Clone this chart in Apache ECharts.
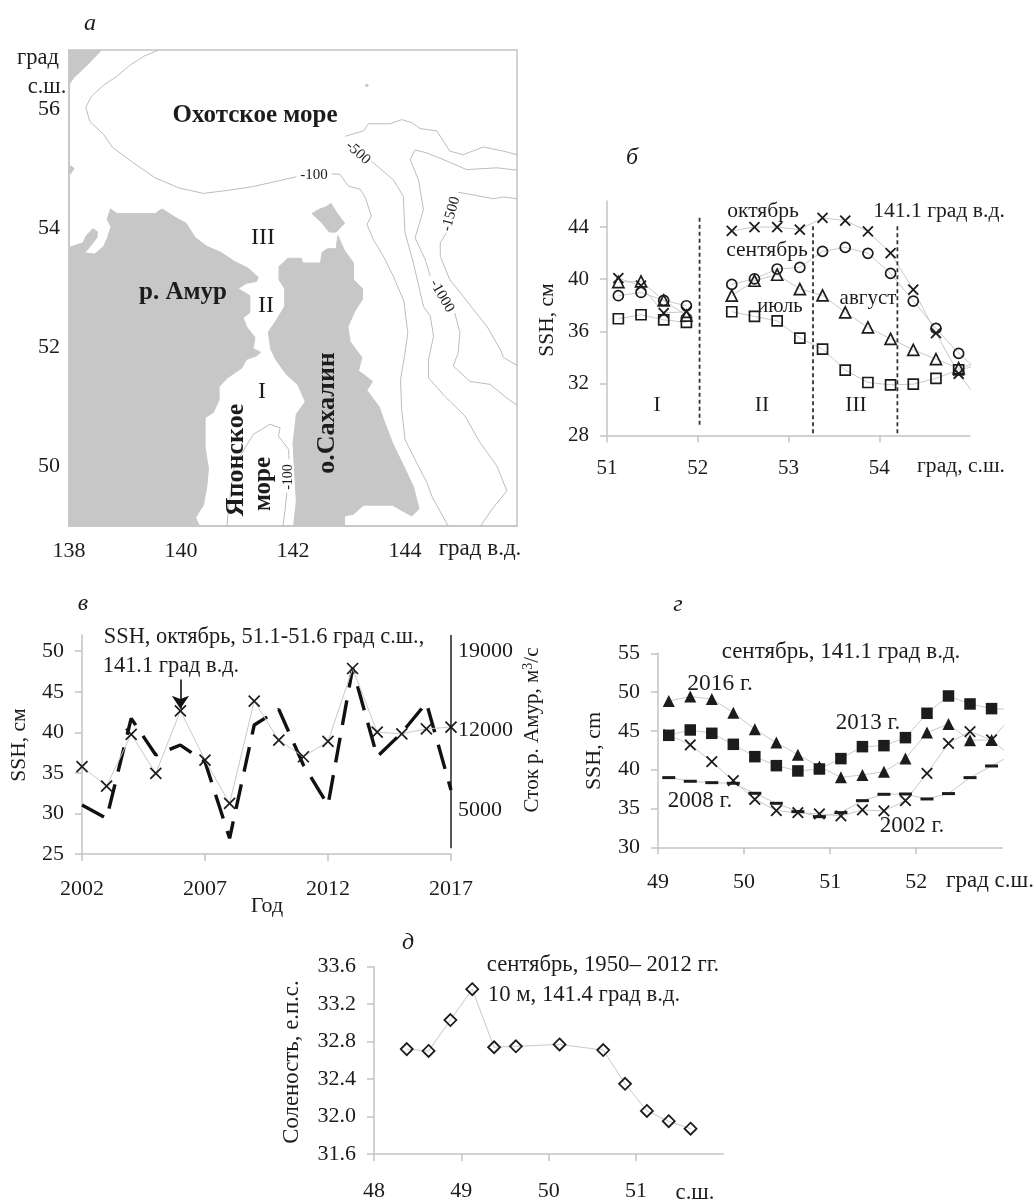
<!DOCTYPE html>
<html><head><meta charset="utf-8">
<style>html,body{margin:0;padding:0;background:#fff}#c{width:1036px;height:1202px}</style>
<script src="https://cdn.jsdelivr.net/npm/echarts@6/dist/echarts.min.js"></script>
</head><body><div id="c"></div>
<script>
// ---------- panel a (map) : lon/lat ----------
const mainland=[[138,53.68],[138.25,53.76],[138.31,53.88],[138.43,54.00],[138.51,53.94],[138.50,53.85],[138.38,53.70],[138.28,53.59],[138.46,53.57],[138.62,53.70],[138.69,53.85],[138.75,54.03],[138.68,54.15],[138.74,54.33],[138.86,54.25],[139.23,54.25],[139.54,54.25],[139.66,54.33],[139.91,54.18],[140.09,54.09],[140.25,53.85],[140.46,53.70],[140.71,53.60],[140.95,53.45],[141.20,53.33],[141.38,53.18],[141.35,53.11],[141.17,53.08],[141.02,52.99],[141.23,52.87],[141.23,52.59],[141.11,52.50],[141.17,52.35],[141.32,52.17],[141.29,51.98],[141.42,51.92],[141.35,51.86],[141.17,51.80],[141.08,51.65],[140.83,51.49],[140.68,51.34],[140.68,51.12],[140.58,50.91],[140.43,50.82],[140.43,50.33],[140.49,49.96],[140.46,49.66],[140.40,49.35],[140.26,49.14],[140.33,49],[138,49]];
const sakhalin=[[142.80,53.88],[142.92,53.63],[143.08,53.42],[143.08,53.14],[143.24,52.99],[143.24,52.81],[143.11,52.62],[142.98,52.35],[143.02,52.10],[143.23,51.83],[143.17,51.61],[143.42,51.43],[143.32,51.28],[143.54,51.00],[143.63,50.76],[143.78,50.39],[143.97,50.02],[144.15,49.66],[144.25,49.29],[144.12,49.17],[144.00,49.23],[143.78,49.35],[143.26,49.35],[143.08,49.20],[142.92,49.17],[142.92,49],[142.01,49],[142.06,49.41],[142.03,49.90],[142.00,50.39],[142.06,50.88],[142.22,51.09],[142.09,51.37],[141.88,51.55],[141.69,51.80],[141.60,51.98],[141.56,52.26],[141.69,52.44],[141.85,52.69],[141.85,52.99],[141.75,53.14],[141.75,53.36],[141.91,53.50],[142.15,53.50],[142.17,53.42],[142.49,53.42],[142.52,53.60],[142.62,53.66],[142.77,53.66]];
const sakhalinLobe=[[142.34,54.25],[142.46,54.32],[142.58,54.36],[142.68,54.42],[142.77,54.28],[142.92,54.09],[142.77,53.94],[142.65,53.94],[142.49,54.12]];
const cornerLand=[[138,57],[138.58,57],[138.34,56.76],[138.09,56.54],[138,56.42]];
const leftIslet=[[138,55.07],[138.09,55.01],[138.03,54.92],[138,54.92]];
const speck=[[143.30,56.42],[143.34,56.42],[143.34,56.39],[143.30,56.39]];
const land=[mainland,sakhalin,sakhalinLobe,cornerLand,leftIslet,speck];
const iso100north=[[139.60,57],[139.35,56.90],[139.08,56.74],[138.86,56.56],[138.62,56.41],[138.40,56.22],[138.30,56.04],[138.37,55.80],[138.62,55.58],[138.77,55.37],[139.11,55.13],[139.54,54.85],[139.97,54.68],[140.40,54.59],[140.83,54.64],[141.26,54.70],[141.69,54.79],[142.06,54.87]];
const iso100east=[[142.69,54.92],[142.84,54.91],[142.99,54.71],[143.20,54.66],[143.29,54.52],[143.40,54.21],[143.32,54.07],[143.43,53.82],[143.61,53.54],[143.79,53.20],[143.98,52.78],[144.02,52.47],[144.05,52.25],[144.00,51.91],[143.92,51.46],[143.94,50.96],[144.00,50.45],[144.21,50.06],[144.39,49.73],[144.48,49.5],[144.77,49]];
const iso500east=[[142.93,55.55],[143.26,55.64],[143.35,55.76],[143.73,55.76],[143.94,55.83],[144.12,55.78],[144.27,55.68],[144.57,55.64],[144.80,55.30],[145.04,55.24],[145.40,55.37],[145.76,55.30],[146,55.24]];
const iso500south=[[143.40,55.13],[143.79,54.82],[143.97,54.54],[144.00,53.93],[144.15,53.42],[144.33,52.69],[144.45,52.53],[144.51,52.19],[144.42,51.80],[144.42,51.49],[144.71,51.18],[145.07,50.85],[145.34,50.40],[145.64,50.01],[145.82,49.59],[145.56,49.29],[145.35,49]];
const iso1000north=[[146,54.98],[145.64,55.02],[145.10,54.99],[144.68,55.16],[144.39,55.27],[144.18,55.32],[144.09,55.16],[144.24,54.82],[144.33,54.32],[144.18,53.84],[144.36,53.48],[144.45,53.20]];
const iso1000south=[[144.89,52.58],[144.98,52.25],[144.95,51.91],[144.86,51.69],[145.16,51.43],[145.52,51.38],[145.82,51.15],[146,51.03]];
const iso1500north=[[146,54.50],[145.76,54.53],[145.58,54.50],[144.95,54.61]];
const iso1500south=[[144.74,53.93],[144.63,53.76],[144.63,53.53],[144.80,53.14],[145.04,52.86],[145.22,52.64],[145.46,52.36],[145.70,51.97],[145.76,51.83],[146,51.70]];
const isoJapanN=[[140.82,49],[140.85,49.3],[140.95,50.0],[141.14,50.31],[141.29,50.54],[141.59,50.71],[141.77,50.65],[141.74,50.51],[141.92,50.29],[141.93,50.12]];
const isoJapanS=[[141.89,49.56],[141.86,49.28],[141.82,49]];
const isolines=[iso100north,iso100east,iso500east,iso500south,iso1000north,iso1000south,iso1500north,iso1500south,isoJapanN,isoJapanS];

// ---------- panel b ----------
const latB=[51.125,51.375,51.625,51.875,52.125,52.375,52.625,52.875,53.125,53.375,53.625,53.875,54.125,54.375,54.625,54.875,55.04];
const octB=[40.08,39.5,37.4,37.5,null,43.7,44.0,44.0,43.8,44.7,44.5,43.67,42.0,39.2,35.86,32.74,31.25];
const sepB=[38.73,38.98,38.37,37.96,null,39.6,40.03,40.78,40.9,42.13,42.44,41.98,40.44,38.32,36.22,34.3,33.3];
const augB=[39.78,39.83,38.37,37.2,null,38.73,39.88,40.34,39.24,38.75,37.45,36.3,35.42,34.58,33.86,33.17,33.5];
const julB=[36.96,37.27,36.88,36.68,null,37.5,37.14,36.8,35.48,34.63,33.02,32.07,31.89,31.94,32.38,33.04,33.3];
const dividersB=[[52.02,28.82,44.8],[53.27,28.18,44.2],[54.2,28.18,44.2]];

// ---------- panel v ----------
const yearsV=[2002,2003,2004,2005,2006,2007,2008,2009,2010,2011,2012,2013,2014,2015,2016,2017];
const ssh=[35.76,33.37,39.74,34.93,42.65,36.58,31.24,43.84,39.04,36.99,38.88,47.87,40.02,39.82,40.43,40.64];
const runoff=[5440,4270,13070,9840,10720,9250,2510,12480,13860,8960,5440,17470,9690,11800,14440,6760];

// ---------- panel g ----------
const latG=[49.125,49.375,49.625,49.875,50.125,50.375,50.625,50.875,51.125,51.375,51.625,51.875,52.125,52.375,52.625,52.875,53.04];
const y2016=[48.86,49.42,49.11,47.35,45.2,43.49,41.94,40.4,39.02,39.32,39.75,41.43,44.78,45.89,43.79,43.83,46];
const y2013=[44.43,45.12,44.69,43.27,41.68,40.52,39.84,40.09,41.43,42.97,43.1,44.13,47.27,49.5,48.47,47.87,47.8];
const y2002=[44.5,43.19,41.04,38.59,36.19,34.73,34.47,34.3,34.04,34.81,34.68,36.01,39.54,43.4,44.91,43.83,42.33];
const y2008=[38.98,38.51,38.33,38.25,36.96,35.67,34.6,33.95,34.47,36.01,36.83,36.87,36.23,36.92,38.98,40.48,41.47];

// ---------- panel d ----------
const latD=[48.375,48.625,48.875,49.125,49.375,49.625,50.125,50.625,50.875,51.125,51.375,51.625];
const salinity=[32.72,32.70,33.03,33.36,32.74,32.75,32.77,32.71,32.35,32.06,31.95,31.87];

// ---------- text ----------
const FONT='"Liberation Serif","Times New Roman",serif';
const notes=[
 ['а',90,24,24,{i:1}],['град',38,58,22.5],['с.ш.',47,87,22.5],
 ['Охотское море',255,116,25,{b:1}],['-100',314,175,15],['-500',358,153,15,{r:-42}],['-1500',451,214,15,{r:75}],['-1000',442,296,15,{r:-60}],
 ['III',263,238,24],['II',266,306,24],['I',262,392,24],['р. Амур',183,293,25,{b:1}],
 ['о.Сахалин',327,413,26,{b:1,r:90}],['Японское',236,460,26,{b:1,r:90}],['море',264,484,25,{b:1,r:90}],['-100',288,477,14,{r:90}],
 ['град в.д.',480,549,23],
 ['б',632,158,24,{i:1}],['октябрь',763,211,21.6],['141.1 град в.д.',939,211,21.6],['сентябрь',767,250,21.6],['июль',780,307,20.5],['август',868,298,21],
 ['I',657,405,21.5],['II',762,405,21.5],['III',856,405,21.5],['SSH, см',547,320,21.5,{r:90}],['град, с.ш.',961,466,21.6],
 ['в',83,604,24,{i:1}],['SSH, октябрь, 51.1-51.6 град с.ш.,',264,637,22.4],['141.1 град в.д.',171,666,22.4],['SSH, см',19,745,21.5,{r:90}],['Год',267,906,22],
 ['г',678,605,24,{i:1}],['сентябрь, 141.1 град в.д.',841,652,23],['2016 г.',720,684,23.5],['2013 г.',868,723,23],['2008 г.',700,801,23],['2002 г.',912,826,23],['SSH, cm',594,751,22,{r:90}],['град с.ш.',990,881,23],
 ['д',408,943,24,{i:1}],['сентябрь, 1950– 2012 гг.',603,965,22.7],['10 м, 141.4 град в.д.',584,995,22.7],['Соленость, е.п.с.',292,1062,22.8,{r:90}],['с.ш.',695,1193,22.7]
];

const AX='#c4c4c4',LN='#c9c9c9',INK='#1c1c1c';
const TICK_FONT=[22,21,22,22,22];
const grids=[
 {left:69,top:50,width:448,height:476,show:true,borderColor:AX,borderWidth:1.5},
 {left:607,top:201,width:363,height:234.5},
 {left:82,top:635,width:369,height:219},
 {left:658,top:653.3,width:344.3,height:194},
 {left:374,top:966.7,width:349.3,height:191.6}
];
function xa(i,min,max,interval,margin){return{type:'value',gridIndex:i,min,max,interval,axisLine:{show:true,onZero:false,lineStyle:{color:AX,width:1.5}},axisTick:{show:i>0,length:7,lineStyle:{color:AX,width:1.5}},splitLine:{show:false},axisLabel:{show:true,color:INK,fontFamily:FONT,fontSize:TICK_FONT[i],margin,showMaxLabel:i==2,formatter:v=>String(v)}};}
function ya(i,min,max,vals,fmt){return{type:'value',gridIndex:i,min,max,axisLine:{show:true,onZero:false,lineStyle:{color:AX,width:1.5}},axisTick:{show:i>0,length:7,customValues:vals,lineStyle:{color:AX,width:1.5}},splitLine:{show:false},axisLabel:{color:INK,fontFamily:FONT,fontSize:TICK_FONT[i],margin:i>0?18:9,padding:[4,0,0,0],customValues:vals,formatter:fmt||(v=>String(v))}};}
const xAxis=[xa(0,138,146,2,14),xa(1,51,55,1,22),xa(2,2002,2017,5,24),xa(3,49,53,1,24),xa(4,48,52,1,26)];
const yAxis=[ya(0,49,57,[50,52,54,56]),ya(1,28,46,[28,32,36,40,44]),ya(2,25,52,[25,30,35,40,45,50]),ya(3,30,55,[30,35,40,45,50,55]),ya(4,31.6,33.6,[31.6,32,32.4,32.8,33.2,33.6],v=>v.toFixed(1))];
yAxis.push({type:'value',gridIndex:2,position:'right',min:1128,max:20408,axisLine:{show:false},axisTick:{show:false},splitLine:{show:false},
 axisLabel:{color:INK,fontFamily:FONT,fontSize:22,margin:7,padding:[4,0,0,0],customValues:[5000,12000,19000],formatter:v=>String(v)}});

const zip=(a,b)=>a.map((v,i)=>[v,b[i]]);
const X='path://M0 0L10 10M10 0L0 10';
const series=[];
series.push({type:'custom',xAxisIndex:0,yAxisIndex:0,clip:true,silent:true,data:land.map((_,i)=>[i]),z:1,
 renderItem:(p,api)=>({type:'polygon',shape:{points:land[p.dataIndex].map(c=>api.coord(c))},style:{fill:'#c7c7c7',stroke:'#c7c7c7'}})});
isolines.forEach(l=>series.push({type:'line',xAxisIndex:0,yAxisIndex:0,data:l,symbol:'none',silent:true,z:2,lineStyle:{color:'#bdbdbd',width:1}}));

function marked(xs,ys,grid,yi,symbol,size,fill,bw,lastBare){
 return {type:'line',xAxisIndex:grid,yAxisIndex:yi,data:zip(xs,ys),silent:true,z:3,clip:false,
  symbol:lastBare?((v,p)=>p.dataIndex===xs.length-1?'none':symbol):symbol,symbolSize:size,showAllSymbol:true,
  lineStyle:{color:LN,width:1},itemStyle:{color:fill,borderColor:INK,borderWidth:bw,opacity:1}};
}
const HOLLOW='rgba(255,255,255,0)';
series.push(marked(latB,julB,1,1,'rect',10,HOLLOW,1.7,true));
series.push(marked(latB,augB,1,1,'triangle',11,HOLLOW,1.7,true));
series.push(marked(latB,sepB,1,1,'circle',10,HOLLOW,1.7,true));
series.push(marked(latB,octB,1,1,X,10,HOLLOW,1.8,true));
dividersB.forEach(d=>series.push({type:'line',xAxisIndex:1,yAxisIndex:1,data:[[d[0],d[1]],[d[0],d[2]]],symbol:'none',silent:true,z:4,lineStyle:{color:'#333',width:1.8,type:[4,3]}}));

series.push({type:'line',xAxisIndex:2,yAxisIndex:5,data:zip(yearsV,runoff),symbol:'none',silent:true,z:3,clip:false,lineStyle:{color:'#111',width:3.4,type:[25,13]}});
series.push(marked(yearsV,ssh,2,2,X,11,HOLLOW,1.7,false));
series.push({type:'line',xAxisIndex:2,yAxisIndex:5,data:[[2017,1630],[2017,20408]],symbol:'none',silent:true,z:4,lineStyle:{color:'#111',width:1.4}});
series.push({type:'line',xAxisIndex:2,yAxisIndex:2,data:[],silent:true,markLine:{silent:true,symbol:['none','arrow'],symbolSize:13,label:{show:false},lineStyle:{color:'#111',width:1.6,type:'solid'},animation:false,data:[[{coord:[2006,46.5]},{coord:[2006,42.9]}]]}});

series.push(marked(latG,y2008,3,3,'rect',[13,3],INK,0,true));
series.push(marked(latG,y2002,3,3,X,10.5,HOLLOW,1.8,true));
series.push(marked(latG,y2013,3,3,'rect',11.5,INK,0,true));
series.push(marked(latG,y2016,3,3,'triangle',12,INK,0,true));

series.push(marked(latD,salinity,4,4,'diamond',12,HOLLOW,1.8,false));

const graphics=notes.map(n=>{const o=n[4]||{};return{type:'text',x:n[1],y:n[2],rotation:(o.r||0)*Math.PI/180,silent:true,z:50,
 style:{text:n[0],fill:INK,fontFamily:FONT,fontSize:n[3],fontWeight:o.b?'bold':'normal',fontStyle:o.i?'italic':'normal',textAlign:'center',textVerticalAlign:'middle'}};});
graphics.push({type:'text',x:532,y:730,rotation:Math.PI/2,silent:true,z:50,style:{
 rich:{a:{fontFamily:FONT,fontSize:21,fill:INK},b:{fontFamily:FONT,fontSize:14,fill:INK,verticalAlign:'top',lineHeight:20}},
 text:'{a|Сток р. Амур, м}{b|3}{a|/с}',textAlign:'center',textVerticalAlign:'middle'}});

const chart=echarts.init(document.getElementById('c'),null,{renderer:'canvas'});
chart.setOption({animation:false,backgroundColor:'#fff',grid:grids.map(g=>Object.assign({containLabel:false,show:false},g)),xAxis,yAxis,series,graphic:{elements:graphics}});
</script></body></html>
